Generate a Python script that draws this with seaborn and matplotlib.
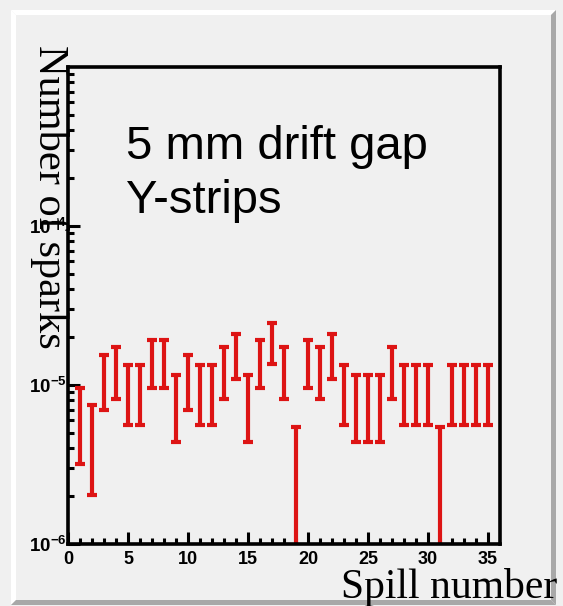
import matplotlib
matplotlib.use("Agg")
import matplotlib.pyplot as plt
from matplotlib.patches import Polygon
from matplotlib.ticker import FixedLocator, FixedFormatter, NullFormatter
import numpy as np
import pandas as pd
import seaborn as sns

# Spark rate per spill with its uncertainty
spill = list(range(1, 36))
sparks = [6.36e-6, 4.77e-6, 11.13e-6, 12.72e-6, 9.54e-6, 9.54e-6, 14.31e-6,
          14.31e-6, 7.95e-6, 11.13e-6, 9.54e-6, 9.54e-6, 12.72e-6, 15.90e-6,
          7.95e-6, 14.31e-6, 19.08e-6, 12.72e-6, 3.18e-6, 14.31e-6, 12.72e-6,
          15.90e-6, 9.54e-6, 7.95e-6, 7.95e-6, 7.95e-6, 12.72e-6, 9.54e-6,
          9.54e-6, 9.54e-6, 3.18e-6, 9.54e-6, 9.54e-6, 9.54e-6, 9.54e-6]
sparks_err = [3.18e-6, 2.75e-6, 4.21e-6, 4.50e-6, 3.90e-6, 3.90e-6, 4.77e-6,
              4.77e-6, 3.56e-6, 4.21e-6, 3.90e-6, 3.90e-6, 4.50e-6, 5.03e-6,
              3.56e-6, 4.77e-6, 5.51e-6, 4.50e-6, 2.25e-6, 4.77e-6, 4.50e-6,
              5.03e-6, 3.90e-6, 3.56e-6, 3.56e-6, 3.56e-6, 4.50e-6, 3.90e-6,
              3.90e-6, 3.90e-6, 2.25e-6, 3.90e-6, 3.90e-6, 3.90e-6, 3.90e-6]

x_major = [0, 5, 10, 15, 20, 25, 30, 35]
y_major = [1e-6, 1e-5, 1e-4]
y_major_labels = [r"$\mathrm{10^{-6}}$", r"$\mathrm{10^{-5}}$", r"$\mathrm{10^{-4}}$"]

BG = "#f0f0f0"
RED = "#dd1414"

sns.set_theme(style="ticks")
plt.rcParams.update({
    "font.family": ["Liberation Sans", "DejaVu Sans"],
    "mathtext.fontset": "custom",
    "mathtext.rm": "Liberation Sans:bold",
    "mathtext.it": "Liberation Sans:bold",
    "mathtext.bf": "Liberation Sans:bold",
    "text.color": "black",
    "axes.labelcolor": "black",
    "xtick.color": "black",
    "ytick.color": "black",
})

# long-form table: lower and upper end of each error bar
df = pd.DataFrame({
    "spill": np.repeat(spill, 2),
    "sparks": np.ravel(np.column_stack([np.array(sparks) - np.array(sparks_err),
                                        np.array(sparks) + np.array(sparks_err)])),
})

W, H = 563, 606
fig = plt.figure(figsize=(W / 100, H / 100), dpi=100, facecolor=BG)


def fpx(pts):
    return [(x / W, 1 - y / H) for x, y in pts]


# raised canvas border
x0, x1, y0, y1, b = 11, 556, 10, 605, 5
for pts, col in [
    ([(x0, y0), (x1, y0), (x1 - b, y0 + b), (x0 + b, y0 + b)], "white"),
    ([(x0, y0), (x0 + b, y0 + b), (x0 + b, y1 - b), (x0, y1)], "white"),
    ([(x1, y0), (x1, y1), (x1 - b, y1 - b), (x1 - b, y0 + b)], "#a8a8a8"),
    ([(x0, y1), (x1, y1), (x1 - b, y1 - b), (x0 + b, y1 - b)], "#a8a8a8"),
]:
    fig.add_artist(Polygon(fpx(pts), closed=True, facecolor=col, edgecolor="none",
                           transform=fig.transFigure, zorder=-5))

ax = fig.add_axes([68 / W, 62 / H, 432 / W, 477 / H])
ax.set_facecolor(BG)
ax.set_yscale("log")
ax.set_ylim(1e-6, 1e-3)

sns.pointplot(data=df, x="spill", y="sparks", native_scale=True,
              estimator="mean", errorbar=("pi", 100), capsize=0.85,
              linestyle="none", markersize=0, color=RED,
              err_kws={"linewidth": 3.0, "solid_capstyle": "butt"}, ax=ax)

ax.set_xlim(0, 36)
ax.set_ylim(1e-6, 1e-3)

for s in ax.spines.values():
    s.set_linewidth(2.6)
    s.set_color("black")
    s.set_visible(True)

ax.xaxis.set_major_locator(FixedLocator(x_major))
ax.xaxis.set_minor_locator(FixedLocator(spill))
ax.set_xticklabels([str(v) for v in x_major])
ax.yaxis.set_major_locator(FixedLocator(y_major))
ax.yaxis.set_major_formatter(FixedFormatter(y_major_labels))
minors = [m * d for d in [1e-6, 1e-5, 1e-4] for m in range(2, 10)]
ax.yaxis.set_minor_locator(FixedLocator(minors))
ax.yaxis.set_minor_formatter(NullFormatter())

ax.tick_params(which="both", direction="in", top=False, right=False,
               color="black", labelcolor="black", width=2.2)
ax.tick_params(which="major", length=8.5)
ax.tick_params(which="minor", length=4)
ax.tick_params(axis="x", which="major", pad=5, labelsize=13)
ax.tick_params(axis="y", which="major", pad=1, labelsize=13.5)
for lab in ax.get_xticklabels():
    lab.set_fontweight("bold")

ax.set_xlabel("Spill number", family=["Liberation Serif"], fontsize=30,
              ha="right", va="baseline", color="black")
ax.xaxis.set_label_coords(1.132, -0.1132)
ax.set_ylabel("Number of sparks", family=["Liberation Serif"], fontsize=30.5,
              rotation=-90, rotation_mode="default", ha="center", va="center",
              color="black")
ax.yaxis.set_label_coords(-0.042, 0.727)

ax.text(0.134, 0.807, "5 mm drift gap", transform=ax.transAxes, fontsize=34,
        va="baseline", ha="left", color="black")
ax.text(0.134, 0.694, "Y-strips", transform=ax.transAxes, fontsize=34,
        va="baseline", ha="left", color="black")

fig.savefig("out.png", dpi=100, facecolor=BG)
